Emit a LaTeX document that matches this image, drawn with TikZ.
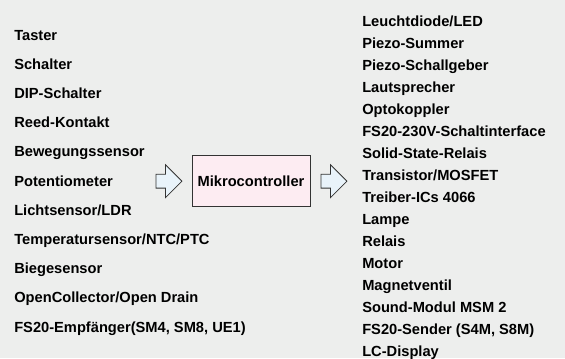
\documentclass[tikz,border=0pt]{standalone}
\usepackage{fontspec}
\setmainfont{Liberation Sans}
\usetikzlibrary{positioning,shapes.arrows}
\definecolor{bgray}{HTML}{EDEEED}
\definecolor{mcfill}{HTML}{FDECF2}
\definecolor{arrfill}{HTML}{E9F3FA}
\definecolor{edgegray}{HTML}{333333}

\begin{document}
\begin{tikzpicture}[
  item/.style={anchor=base west, inner sep=0pt, font=\fontsize{11}{13}\selectfont\bfseries},
  nextin/.style={below=21.9pt of #1.base west, anchor=base west},
  nextout/.style={below=16.54pt of #1.base west, anchor=base west},
  mcbox/.style={draw=edgegray, fill=mcfill, line width=0.75pt, minimum width=88.5pt, minimum height=38.25pt, font=\fontsize{11}{13}\selectfont\bfseries},
  blockarr/.style={single arrow, draw=edgegray, fill=arrfill, line width=0.6pt, inner xsep=0pt, inner ysep=4.875pt, minimum height=19.5pt, single arrow head extend=7.1pt}
]
\fill[bgray] (0,0) rectangle (423.75pt,-268.5pt);
\useasboundingbox (0,0) rectangle (423.75pt,-268.5pt);
% inputs
\node[item] (in1) at (10.5pt,-30pt) {Taster};
\node[item, nextin=in1] (in2) {Schalter};
\node[item, nextin=in2] (in3) {DIP-Schalter};
\node[item, nextin=in3] (in4) {Reed-Kontakt};
\node[item, nextin=in4] (in5) {Bewegungssensor};
\node[item, nextin=in5] (in6) {Potentiometer};
\node[item, nextin=in6] (in7) {Lichtsensor/LDR};
\node[item, nextin=in7] (in8) {Temperatursensor/NTC/PTC};
\node[item, nextin=in8] (in9) {Biegesensor};
\node[item, nextin=in9] (in10) {OpenCollector/Open Drain};
\node[item, nextin=in10] (in11) {FS20-Empfänger(SM4, SM8, UE1)};
% controller
\node[mcbox] (mc) at (188.25pt,-135.9pt) {Mikrocontroller};
\node[blockarr, left=6.75pt of mc] (arrin) {};
\node[blockarr, right=7.5pt of mc] (arrout) {};
% outputs
\node[item] (out1) at (271.5pt,-19.5pt) {Leuchtdiode/LED};
\node[item, nextout=out1] (out2) {Piezo-Summer};
\node[item, nextout=out2] (out3) {Piezo-Schallgeber};
\node[item, nextout=out3] (out4) {Lautsprecher};
\node[item, nextout=out4] (out5) {Optokoppler};
\node[item, nextout=out5] (out6) {FS20-230V-Schaltinterface};
\node[item, nextout=out6] (out7) {Solid-State-Relais};
\node[item, nextout=out7] (out8) {Transistor/MOSFET};
\node[item, nextout=out8] (out9) {Treiber-ICs 4066};
\node[item, nextout=out9] (out10) {Lampe};
\node[item, nextout=out10] (out11) {Relais};
\node[item, nextout=out11] (out12) {Motor};
\node[item, nextout=out12] (out13) {Magnetventil};
\node[item, nextout=out13] (out14) {Sound-Modul MSM 2};
\node[item, nextout=out14] (out15) {FS20-Sender (S4M, S8M)};
\node[item, nextout=out15] (out16) {LC-Display};
\end{tikzpicture}
\end{document}
